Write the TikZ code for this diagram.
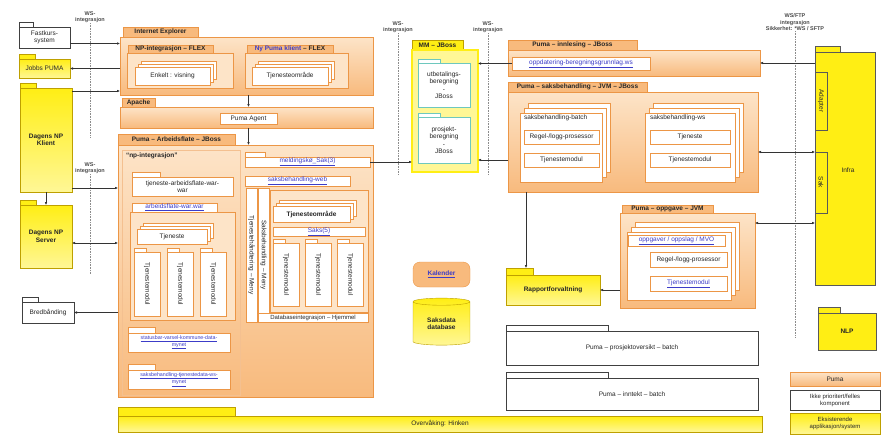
\documentclass[tikz,border=0pt]{standalone}
\usepackage{fontspec}
\setmainfont{Liberation Sans}
\usetikzlibrary{arrows.meta, shadows, shapes.geometric}

\definecolor{pumaor}{RGB}{248,186,125}
\definecolor{pumalys}{RGB}{253,228,200}
\definecolor{pumakant}{RGB}{236,150,70}
\definecolor{gul}{RGB}{255,238,20}
\definecolor{gullys}{RGB}{255,247,150}
\definecolor{gulkant}{RGB}{190,160,0}
\definecolor{lenke}{RGB}{60,60,200}
\definecolor{mmkant}{RGB}{110,200,190}

\begin{document}
\begin{tikzpicture}[x=1pt, y=-1pt]
    % Stiler
    \tikzset{
        every node/.style={font=\fontsize{6.5}{7.5}\selectfont, inner sep=0pt, outer sep=0pt, align=center, text=black!85},
        boksdim/.style 2 args={minimum width=#1pt, minimum height=#2pt},
        fane/.style={draw=pumakant, fill=pumaor, anchor=south west, font=\fontsize{6.5}{7.5}\selectfont\bfseries},
        minifane/.style={draw=pumakant, fill=white, anchor=south west},
        ramme/.style={draw=pumakant, line width=0.9pt, top color=pumalys, bottom color=pumaor, anchor=north west},
        lysramme/.style={draw=pumakant, fill=pumalys, anchor=north west},
        hvit/.style={draw=pumakant, fill=white, anchor=north west},
        stabel/.style={hvit, double copy shadow={shadow xshift=3pt, shadow yshift=3pt, draw=pumakant, fill=white}},
        stabel2/.style={hvit, double copy shadow={shadow xshift=4pt, shadow yshift=5pt, draw=pumakant, fill=white}},
        modul/.style={draw=pumakant, fill=white, rotate=-90, anchor=center},
        lenketekst/.style={text=lenke},
        gulboks/.style={draw=gulkant, top color=gul, bottom color=gullys, anchor=north west},
        gulfane/.style={draw=gulkant, fill=gul, anchor=south west},
        infrast/.style={draw=black!65, fill=gul, anchor=north west, line width=0.7pt},
        svart/.style={draw=black!75, fill=white, anchor=north west, line width=0.6pt},
        svartfane/.style={draw=black!75, fill=white, anchor=south west, line width=0.6pt},
        mmramme/.style={draw=gul, line width=2.5pt, fill=gullys, anchor=north west},
        mmboks/.style={draw=mmkant, line width=0.8pt, fill=white, anchor=north west},
        wslinje/.style={densely dotted, draw=black!45, line width=0.6pt},
        wstekst/.style={anchor=south, font=\fontsize{5.5}{6.5}\selectfont\bfseries, text=black!70},
        pil/.style={-{Latex[length=3pt,width=2.6pt]}, line width=0.5pt, draw=black!80},
        pil2/.style={{Latex[length=3pt,width=2.6pt]}-{Latex[length=3pt,width=2.6pt]}, line width=0.5pt, draw=black!80}
    }

    \fill[white] (0,0) rectangle (883,434);
    \useasboundingbox (0,0) rectangle (883,434);

    % WS-integrasjon
    \node[wstekst] (wsa) at (90,23) {WS-\\integrasjon};
    \node[wstekst] (wsb) at (90,174) {WS-\\integrasjon};
    \node[wstekst] (wsc) at (398,33) {WS-\\integrasjon};
    \node[wstekst] (wsd) at (488,33) {WS-\\integrasjon};
    \node[wstekst] (wse) at (795,31) {WS/FTP\\integrasjon\\Sikkerhet: *WS / SFTP};
    \draw[wslinje] (wsa.south) -- ++(0,115);
    \draw[wslinje] (wsb.south) -- ++(0,100);
    \draw[wslinje] (wsc.south) -- ++(0,142);
    \draw[wslinje] (wsd.south) -- ++(0,142);
    \draw[wslinje] (wse.south) -- ++(0,307);

    % Venstre side
    \node[svartfane, boksdim={14}{5}] (fastkursf) at (19,27) {};
    \node[svart, boksdim={51}{21}] (fastkurs) at (19,27) {Fastkurs-\\system};
    \node[gulfane, boksdim={16}{5}] (jobbsf) at (19,59) {};
    \node[gulboks, boksdim={51}{19}] (jobbs) at (19,59) {Jobbs PUMA};
    \node[gulfane, boksdim={16}{5}] (klientf) at (20,88) {};
    \node[gulboks, boksdim={52}{104}] (klient) at (20,88) {\textbf{Dagens NP}\\\textbf{Klient}};
    \node[gulfane, boksdim={16}{5}] (serverf) at (20,205) {};
    \node[gulboks, boksdim={52}{63}] (server) at (20,205) {\textbf{Dagens NP}\\\textbf{Server}};
    \node[svartfane, boksdim={16}{5}] (bredbf) at (22,302) {};
    \node[svart, boksdim={52}{21}] (bredb) at (22,302) {Bredbånding};

    % Internet Explorer
    \node[fane, boksdim={75}{10}] (ief) at (123,37) {Internet Explorer};
    \node[ramme, boksdim={253}{58}] (ie) at (120,37) {};
    \node[fane, boksdim={85}{8}] (npflexf) at (128,53) {NP-integrasjon -- FLEX};
    \node[lysramme, boksdim={106}{35}] (npflex) at (127,53) {};
    \node[stabel, boksdim={75}{18}] (enkelt) at (135,67) {Enkelt : visning};
    \node[fane, boksdim={86}{8}] (nypumaf) at (247,53) {{\color{lenke}Ny Puma klient} -- FLEX};
    \node[lysramme, boksdim={103}{35}] (nypuma) at (245,53) {};
    \node[stabel, boksdim={76}{18}] (tjomr1) at (252,67) {Tjenesteområde};

    % Apache
    \node[fane, boksdim={33}{9}] (apachef) at (122,107) {Apache};
    \node[ramme, boksdim={253}{21}] (apache) at (120,107) {};
    \node[hvit, boksdim={57}{11}] (agent) at (220,113) {Puma Agent};

    % Puma - Arbeidsflate
    \node[fane, boksdim={117}{11}] (arbf) at (118,145) {Puma -- Arbeidsflate -- JBoss};
    \node[ramme, boksdim={255}{252}] (arb) at (118,145) {};
    \node[draw=pumakant!60, anchor=north west, boksdim={118}{245}] (npint) at (122,150) {};
    \node[anchor=north west, font=\fontsize{6.5}{7.5}\selectfont\bfseries] (npintt) at (126,153) {``np-integrasjon''};
    \node[minifane, boksdim={28}{5}] (tjwarf) at (132,177) {};
    \node[hvit, boksdim={101}{19}] (tjwar) at (132,177) {tjeneste-arbeidsflate-war-\\war};
    \node[hvit, lenketekst, boksdim={85}{9}] (arbwarf) at (132,203) {\underline{arbeidsflate-war.war}};
    \node[lysramme, boksdim={105}{108}] (arbwar) at (130,212) {};
    \node[stabel, boksdim={70}{15}] (tjen1) at (137,229) {Tjeneste};
    \node[minifane, boksdim={12}{4}] (m1f) at (134,252) {};
    \node[minifane, boksdim={12}{4}] (m2f) at (167,252) {};
    \node[minifane, boksdim={12}{4}] (m3f) at (200,252) {};
    \node[modul, minimum width=64pt, minimum height=26pt] (m1) at (147,284) {Tjenestemodul};
    \node[modul, minimum width=64pt, minimum height=26pt] (m2) at (180,284) {Tjenestemodul};
    \node[modul, minimum width=64pt, minimum height=26pt] (m3) at (213,284) {Tjenestemodul};
    \node[minifane, boksdim={27}{6}] (lenke1f) at (128,333) {};
    \node[hvit, lenketekst, boksdim={102}{19}, font=\fontsize{5.3}{6.3}\selectfont] (lenke1) at (128,333) {\underline{statusbar-varsel-kommune-data-}\\\underline{mynet}};
    \node[minifane, boksdim={27}{6}] (lenke2f) at (128,370) {};
    \node[hvit, lenketekst, boksdim={102}{19}, font=\fontsize{5.3}{6.3}\selectfont] (lenke2) at (128,370) {\underline{saksbehandling-tjenestedata-ws-}\\\underline{mynet}};

    \node[minifane, boksdim={20}{5}] (meldkof) at (245,157) {};
    \node[hvit, lenketekst, boksdim={125}{10}] (meldko) at (245,157) {\underline{meldingskø\_Sak(3)}};
    \node[hvit, lenketekst, boksdim={105}{10}] (sakweb) at (245,176) {\underline{saksbehandling-web}};
    \node[modul, minimum width=134pt, minimum height=11pt] (meny1) at (251.5,255) {Tjenestehåndtering -- Meny};
    \node[modul, minimum width=134pt, minimum height=11pt] (meny2) at (263.5,255) {Saksbehandling -- Meny};
    \node[lysramme, boksdim={98}{122}] (tjsub) at (270,190) {};
    \node[stabel, boksdim={77}{16}] (tjomr2) at (273,206) {\textbf{Tjenesteområde}};
    \node[hvit, lenketekst, boksdim={92}{9}] (saks5) at (273,227) {\underline{Saks(5)}};
    \node[minifane, boksdim={12}{4}] (m4f) at (273,243) {};
    \node[minifane, boksdim={12}{4}] (m5f) at (305,243) {};
    \node[minifane, boksdim={12}{4}] (m6f) at (337,243) {};
    \node[modul, minimum width=63pt, minimum height=26pt] (m4) at (286,274.5) {Tjenestemodul};
    \node[modul, minimum width=63pt, minimum height=26pt] (m5) at (318,274.5) {Tjenestemodul};
    \node[modul, minimum width=63pt, minimum height=26pt] (m6) at (350,274.5) {Tjenestemodul};
    \node[hvit, boksdim={110}{9}, font=\fontsize{6}{7}\selectfont] (dbint) at (258,313) {Databaseintegrasjon -- Hjemmel};

    % MM
    \node[gulfane, boksdim={51}{10}, font=\fontsize{6.5}{7.5}\selectfont\bfseries] (mmf) at (412,50) {MM -- JBoss};
    \node[mmramme, boksdim={66}{122}] (mm) at (412,50) {};
    \node[draw=mmkant, fill=white, anchor=south west, boksdim={22}{4}] (utbetf) at (418,63) {};
    \node[mmboks, boksdim={52}{44}] (utbet) at (418,63) {utbetalings-\\beregning\\-\\JBoss};
    \node[draw=mmkant, fill=white, anchor=south west, boksdim={22}{4}] (prosjf) at (418,117) {};
    \node[mmboks, boksdim={52}{46}] (prosj) at (418,117) {prosjekt-\\beregning\\-\\JBoss};

    % Puma - innlesing
    \node[fane, boksdim={129}{10}] (innlf) at (508,50) {Puma -- innlesing -- JBoss};
    \node[ramme, boksdim={252}{26}] (innl) at (508,50) {};
    \node[hvit, lenketekst, boksdim={138}{13}] (innlenke) at (512,57) {\underline{oppdatering-beregningsgrunnlag.ws}};

    % Puma - saksbehandling
    \node[fane, boksdim={139}{10}] (saksbf) at (508,92) {Puma -- saksbehandling -- JVM -- JBoss};
    \node[ramme, boksdim={250}{100}] (saksb) at (508,92) {};
    \node[stabel2, boksdim={82}{69}] (sbatch) at (520,113) {};
    \node[anchor=north west] (sbatcht) at (524,115) {saksbehandling-batch};
    \node[hvit, boksdim={75}{14}] (regel1) at (524,130) {Regel-/logg-prosessor};
    \node[hvit, boksdim={75}{14}] (tjmod1) at (524,153) {Tjenestemodul};
    \node[stabel2, boksdim={90}{69}] (sws) at (645,113) {};
    \node[anchor=north west] (swst) at (650,115) {saksbehandling-ws};
    \node[hvit, boksdim={80}{14}] (tjen2) at (650,130) {Tjeneste};
    \node[hvit, boksdim={80}{14}] (tjmod2) at (650,153) {Tjenestemodul};

    % Puma - oppgave
    \node[fane, boksdim={91}{8}] (oppgf) at (622,213) {Puma -- oppgave -- JVM};
    \node[ramme, boksdim={135}{95}] (oppg) at (620,213) {};
    \node[stabel2, boksdim={104}{68}] (oppgst) at (627,232) {};
    \node[hvit, lenketekst, boksdim={97}{11}] (oppgl) at (628,235) {\underline{oppgaver / oppslag / MVO}};
    \node[hvit, boksdim={77}{15}] (regel2) at (650,252) {Regel-/logg-prosessor};
    \node[hvit, lenketekst, boksdim={77}{15}] (tjmod3) at (650,276) {\underline{Tjenestemodul}};

    % Kalender, database og rapport
    \node[draw=pumakant, fill=pumaor, rounded corners=7pt, anchor=north west, lenketekst, boksdim={57}{25}, font=\fontsize{6.5}{7.5}\selectfont\bfseries] (kal) at (413,262) {\underline{Kalender}};
    \node[cylinder, shape border rotate=90, aspect=0.25, draw=gulkant, top color=gul, bottom color=gullys, minimum width=57pt, minimum height=47pt, anchor=center, font=\fontsize{6.5}{7.5}\selectfont\bfseries] (db) at (441.5,323.5) {Saksdata\\database};
    \node[gulfane, boksdim={27}{7}] (rappf) at (506,275) {};
    \node[gulboks, boksdim={94}{30}] (rapp) at (506,275) {\textbf{Rapportforvaltning}};

    % Batcher
    \node[svartfane, boksdim={102}{6}] (batch1f) at (506,331) {};
    \node[svart, boksdim={252}{34}] (batch1) at (506,331) {Puma -- prosjektoversikt -- batch};
    \node[svartfane, boksdim={102}{6}] (batch2f) at (506,378) {};
    \node[svart, boksdim={252}{32}] (batch2) at (506,378) {Puma -- inntekt -- batch};

    % Overvaking
    \node[gulfane, boksdim={117}{9}] (overvf) at (118,416) {};
    \node[gulboks, boksdim={644}{16}] (overv) at (118,416) {Overvåking: Hinken};

    % Infra og NLP
    \node[infrast, anchor=south west, boksdim={25}{6}] (infraf) at (815,52) {};
    \node[infrast, boksdim={60}{233}] (infra) at (815,52) {};
    \node[modul, draw=black!65, fill=gul, minimum width=58pt, minimum height=12pt] (adapter) at (821,101) {Adapter};
    \node[modul, draw=black!65, fill=gul, minimum width=61pt, minimum height=12pt] (sak) at (821,182.5) {Sak};
    \node (infrat) at (848,170) {Infra};
    \node[infrast, anchor=south west, boksdim={22}{6}] (nlpf) at (818,313) {};
    \node[infrast, boksdim={58}{37}] (nlp) at (818,313) {\textbf{NLP}};

    % Forklaring
    \node[draw=pumakant, top color=pumalys, bottom color=pumaor, anchor=north west, boksdim={90}{14}] (leg1) at (790,372) {Puma};
    \node[svart, boksdim={90}{20}, font=\fontsize{6}{7}\selectfont] (leg2) at (790,390) {Ikke prioritert/felles\\komponent};
    \node[gulboks, boksdim={90}{21}, font=\fontsize{6}{7}\selectfont] (leg3) at (790,413) {Eksisterende\\applikasjon/system};

    % Piler venstre
    \draw[pil] ([yshift=-6pt]fastkurs.east) -- ([yshift=-6pt]fastkurs.east -| ie.west);
    \draw[pil] (jobbs.east -| ie.west) -- (jobbs.east);
    \draw[pil] ([yshift=-3pt]klient.north east) -- ([yshift=-3pt]klient.north east -| ie.west);
    \draw[pil] ([yshift=4pt]klient.south east) -- ([yshift=4pt]klient.south east -| arb.west);
    \draw[pil] (klient.south) -- (server.north -| klient.south);
    \draw[pil2] ([yshift=-38pt]server.north east) -- ([yshift=-38pt]server.north east -| arb.west);
    \draw[pil] (arb.west |- bredb.east) -- (bredb.east);

    % Piler midten
    \draw[pil] (ie.south -| agent.north) -- (apache.north -| agent.north);
    \draw[pil] (apache.south -| agent.north) -- (arb.north -| agent.north);
    \draw[pil] (meldko.east) -- (meldko.east -| mm.west);
    \draw[pil] (innlenke.west) -- (innlenke.west -| mm.east);
    \draw[pil] ([yshift=-68pt]saksb.north west) -- ([yshift=-68pt]saksb.north west -| mm.east);
    \draw[pil] ([xshift=-7pt]rappf.north east |- saksb.south) -- ([xshift=-7pt]rappf.north east);
    \draw[pil] (oppg.west |- rapp.east) -- (rapp.east);

    % Piler hoyre
    \draw[pil] (infra.west |- innl.east) -- (innl.east);
    \draw[pil2] ([yshift=-60pt]saksb.north east) -- ([yshift=-60pt]saksb.north east -| infra.west);
    \draw[pil2] ([yshift=-10pt]oppg.north east) -- ([yshift=-10pt]oppg.north east -| infra.west);

\end{tikzpicture}
\end{document}
